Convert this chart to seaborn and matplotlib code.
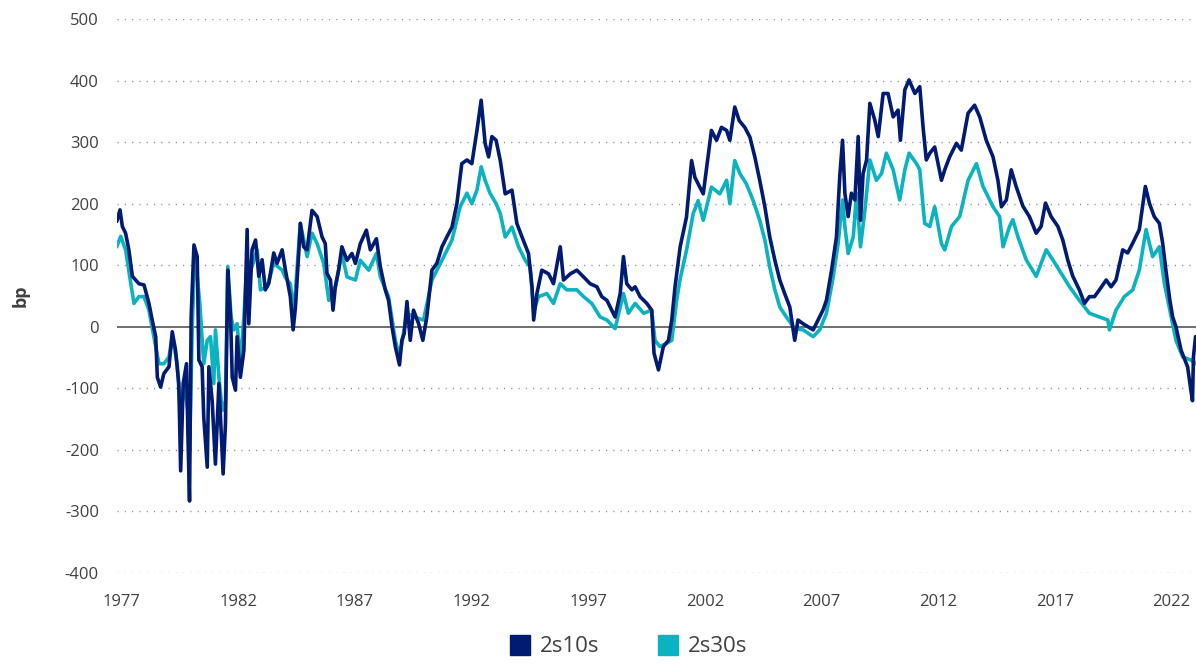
import numpy as np
import pandas as pd
import seaborn as sns
import matplotlib.pyplot as plt
from matplotlib.lines import Line2D

# 2s10s curve (bp)
yrs_10s = [1976.79, 1976.93, 1977.03, 1977.17, 1977.31, 1977.46, 1977.60, 1977.74, 1977.96, 1978.17,
           1978.31, 1978.46, 1978.53, 1978.67, 1978.81, 1979.03, 1979.17, 1979.31, 1979.45, 1979.53,
           1979.64, 1979.78, 1979.84, 1979.91, 1979.98, 1980.10, 1980.24, 1980.31, 1980.45, 1980.52,
           1980.67, 1980.74, 1980.88, 1981.02, 1981.17, 1981.35, 1981.45, 1981.55, 1981.67, 1981.74,
           1981.88, 1981.95, 1982.09, 1982.24, 1982.38, 1982.45, 1982.59, 1982.74, 1982.88, 1983.02,
           1983.16, 1983.31, 1983.52, 1983.66, 1983.88, 1984.02, 1984.23, 1984.35, 1984.45, 1984.59,
           1984.66, 1984.80, 1984.95, 1985.16, 1985.38, 1985.59, 1985.73, 1985.80, 1985.95, 1986.06,
           1986.16, 1986.30, 1986.44, 1986.66, 1986.87, 1987.02, 1987.23, 1987.49, 1987.66, 1987.92,
           1988.09, 1988.30, 1988.44, 1988.59, 1988.73, 1988.91, 1989.01, 1989.11, 1989.23, 1989.37,
           1989.51, 1989.73, 1989.91, 1990.08, 1990.30, 1990.51, 1990.73, 1990.94, 1991.16, 1991.37,
           1991.58, 1991.80, 1992.01, 1992.23, 1992.41, 1992.58, 1992.73, 1992.87, 1993.05, 1993.23,
           1993.44, 1993.73, 1993.94, 1994.16, 1994.44, 1994.59, 1994.66, 1994.80, 1995.01, 1995.30,
           1995.51, 1995.80, 1995.94, 1996.23, 1996.51, 1996.80, 1997.08, 1997.37, 1997.58, 1997.80,
           1998.01, 1998.15, 1998.37, 1998.51, 1998.65, 1998.87, 1999.01, 1999.22, 1999.51, 1999.72,
           1999.82, 2000.01, 2000.22, 2000.44, 2000.58, 2000.72, 2000.94, 2001.21, 2001.43, 2001.57,
           2001.78, 2001.93, 2002.28, 2002.50, 2002.71, 2002.93, 2003.07, 2003.28, 2003.47, 2003.71,
           2003.93, 2004.14, 2004.35, 2004.57, 2004.78, 2005.00, 2005.21, 2005.42, 2005.64, 2005.85,
           2005.99, 2006.21, 2006.42, 2006.64, 2006.85, 2007.06, 2007.21, 2007.43, 2007.64, 2007.78,
           2007.90, 2008.00, 2008.14, 2008.28, 2008.43, 2008.57, 2008.67, 2008.78, 2008.93, 2009.07,
           2009.28, 2009.43, 2009.64, 2009.85, 2010.07, 2010.28, 2010.38, 2010.57, 2010.75, 2011.00,
           2011.21, 2011.35, 2011.49, 2011.64, 2011.85, 2012.14, 2012.28, 2012.49, 2012.78, 2012.99,
           2013.28, 2013.56, 2013.78, 2014.06, 2014.35, 2014.56, 2014.71, 2014.92, 2015.13, 2015.34,
           2015.63, 2015.91, 2016.20, 2016.41, 2016.60, 2016.84, 2017.13, 2017.34, 2017.55, 2017.77,
           2018.05, 2018.27, 2018.48, 2018.70, 2018.91, 2019.20, 2019.41, 2019.62, 2019.91, 2020.12,
           2020.34, 2020.62, 2020.88, 2021.05, 2021.26, 2021.48, 2021.62, 2021.76, 2021.93, 2022.05,
           2022.19, 2022.41, 2022.69, 2022.83, 2022.90, 2022.94, 2023.03]
bp_10s = [171, 190, 163, 152, 125, 82, 76, 70, 68, 38,
          11, -16, -82, -98, -76, -65, -8, -38, -92, -234,
          -92, -60, -174, -283, 16, 133, 114, -54, -65, -147,
          -228, -65, -120, -223, -92, -239, -158, 92, 16, -82,
          -103, -16, -82, -38, 158, 5, 125, 141, 82, 109,
          60, 71, 120, 103, 125, 92, 49, -5, 32, 119,
          168, 130, 125, 189, 179, 146, 135, 87, 76, 27,
          65, 92, 130, 108, 119, 103, 135, 157, 125, 143,
          97, 60, 43, 0, -32, -62, -22, -11, 41, -22,
          27, 5, -22, 16, 92, 103, 130, 146, 162, 200,
          265, 271, 265, 319, 368, 298, 276, 309, 303, 270,
          216, 222, 168, 146, 119, 65, 11, 54, 92, 86,
          70, 130, 76, 86, 92, 81, 70, 65, 49, 43,
          27, 16, 54, 114, 70, 60, 65, 49, 38, 27,
          -43, -70, -32, -22, 11, 65, 130, 178, 270, 243,
          227, 216, 319, 303, 324, 319, 303, 357, 335, 324,
          308, 276, 238, 195, 146, 108, 76, 54, 32, -22,
          11, 5, 0, -5, 11, 27, 43, 92, 146, 244,
          303, 217, 179, 217, 206, 309, 173, 249, 271, 363,
          336, 309, 379, 379, 341, 352, 303, 385, 401, 379,
          390, 325, 271, 282, 292, 238, 255, 276, 298, 287,
          347, 360, 341, 303, 276, 238, 195, 206, 255, 228,
          196, 179, 152, 163, 201, 179, 163, 141, 109, 82,
          60, 38, 49, 49, 60, 76, 65, 76, 125, 120,
          136, 158, 228, 201, 179, 168, 136, 92, 43, 16,
          0, -38, -65, -103, -120, -49, -16]

# 2s30s curve (bp)
yrs_30s = [1976.79, 1976.96, 1977.17, 1977.39, 1977.53, 1977.74, 1977.96, 1978.17, 1978.38, 1978.60,
           1978.81, 1979.03, 1979.17, 1979.38, 1979.53, 1979.67, 1979.84, 1979.91, 1980.03, 1980.13,
           1980.24, 1980.35, 1980.52, 1980.67, 1980.81, 1980.95, 1981.02, 1981.17, 1981.31, 1981.45,
           1981.55, 1981.69, 1981.81, 1981.95, 1982.09, 1982.24, 1982.38, 1982.59, 1982.81, 1982.95,
           1983.24, 1983.52, 1983.88, 1984.02, 1984.23, 1984.38, 1984.66, 1984.95, 1985.16, 1985.38,
           1985.66, 1985.88, 1986.16, 1986.44, 1986.66, 1987.02, 1987.23, 1987.59, 1987.92, 1988.09,
           1988.44, 1988.73, 1988.91, 1989.23, 1989.51, 1989.94, 1990.30, 1990.73, 1991.16, 1991.51,
           1991.80, 1992.01, 1992.23, 1992.41, 1992.58, 1992.79, 1993.05, 1993.23, 1993.44, 1993.73,
           1994.01, 1994.30, 1994.51, 1994.66, 1994.87, 1995.23, 1995.51, 1995.80, 1996.08, 1996.51,
           1996.80, 1997.15, 1997.51, 1997.80, 1998.15, 1998.51, 1998.72, 1999.01, 1999.37, 1999.72,
           1999.86, 2000.07, 2000.36, 2000.58, 2000.79, 2000.93, 2001.21, 2001.50, 2001.71, 2001.93,
           2002.28, 2002.64, 2002.93, 2003.07, 2003.28, 2003.50, 2003.78, 2004.07, 2004.35, 2004.57,
           2004.78, 2005.00, 2005.21, 2005.49, 2005.85, 2006.21, 2006.64, 2006.92, 2007.21, 2007.50,
           2007.71, 2007.90, 2008.00, 2008.14, 2008.36, 2008.50, 2008.67, 2008.86, 2009.07, 2009.35,
           2009.57, 2009.78, 2010.07, 2010.35, 2010.57, 2010.75, 2011.07, 2011.21, 2011.42, 2011.64,
           2011.85, 2012.14, 2012.28, 2012.57, 2012.92, 2013.28, 2013.64, 2013.92, 2014.35, 2014.63,
           2014.78, 2015.06, 2015.20, 2015.41, 2015.77, 2016.20, 2016.63, 2016.91, 2017.27, 2017.63,
           2018.05, 2018.48, 2018.91, 2019.27, 2019.34, 2019.62, 2019.98, 2020.34, 2020.62, 2020.91,
           2021.19, 2021.48, 2021.69, 2021.93, 2022.19, 2022.48, 2022.83, 2023.03]
bp_30s = [130, 147, 125, 71, 38, 49, 49, 27, -16, -60,
          -60, -49, -16, -60, -147, -92, -136, -201, 5, 114,
          82, 38, -60, -22, -16, -92, -5, -82, -136, -120,
          98, 16, -5, 5, -60, 16, 109, 98, 125, 60,
          65, 103, 92, 80, 70, 22, 168, 114, 152, 135,
          103, 43, 65, 119, 81, 76, 108, 92, 119, 81,
          49, -22, -49, 22, 16, 11, 76, 108, 141, 195,
          217, 200, 222, 260, 238, 217, 200, 184, 146, 162,
          130, 108, 97, 27, 49, 54, 38, 70, 60, 60,
          49, 38, 16, 11, -3, 54, 22, 38, 22, 27,
          -22, -32, -27, -22, 43, 76, 124, 184, 205, 173,
          227, 216, 238, 200, 270, 249, 232, 205, 173, 141,
          97, 60, 32, 16, -3, -5, -16, -5, 22, 81,
          135, 206, 163, 119, 146, 217, 130, 190, 271, 238,
          249, 282, 255, 206, 255, 282, 265, 255, 168, 163,
          195, 135, 125, 163, 179, 238, 265, 228, 195, 179,
          130, 163, 174, 147, 109, 82, 125, 109, 87, 65,
          43, 22, 16, 11, -5, 27, 49, 60, 92, 158,
          114, 130, 71, 27, -22, -49, -54, -60]

tick_years = [1977, 1982, 1987, 1992, 1997, 2002, 2007, 2012, 2017, 2022]
y_ticks = [500, 400, 300, 200, 100, 0, -100, -200, -300, -400]

navy = "#001b71"
teal = "#0bb2bf"
txt = "#404040"

sns.set_theme(style="white")
plt.rcParams["font.family"] = ["Open Sans", "DejaVu Sans"]

fig = plt.figure(figsize=(11.96, 6.67), dpi=100)
ax = fig.add_axes([0.0978, 0.1409, 0.9022, 0.8306])

for v in y_ticks:
    if v != 0:
        ax.axhline(v, color="#8a8a8a", lw=1.0, linestyle=(0, (0.8, 4.45)), zorder=0)
ax.axhline(0, color="#6e6e6e", lw=1.4, zorder=1)

sns.lineplot(x=yrs_30s, y=bp_30s, color=teal, linewidth=2.6, ax=ax, sort=False,
             estimator=None, legend=False, zorder=2)
sns.lineplot(x=yrs_10s, y=bp_10s, color=navy, linewidth=2.6, ax=ax, sort=False,
             estimator=None, legend=False, zorder=3)

ax.set_xlim(1976.8, 2023.05)
ax.set_ylim(-400, 500)
ax.set_xticks(tick_years)
ax.set_xticklabels([str(y) for y in tick_years])
ax.set_yticks(y_ticks)
ax.set_yticklabels([str(v) for v in y_ticks])
ax.tick_params(axis="x", length=0, pad=15, labelsize=12, labelcolor=txt)
ax.tick_params(axis="y", length=0, pad=13, labelsize=12, labelcolor=txt)
for s in ax.spines.values():
    s.set_visible(False)
ax.set_xlabel("")
ax.set_ylabel("bp", fontsize=13, fontweight="bold", color=txt, labelpad=25)

handles = [Line2D([], [], marker="s", linestyle="none", markersize=14, color=navy),
           Line2D([], [], marker="s", linestyle="none", markersize=14, color=teal)]
fig.legend(handles, ["2s10s", "2s30s"], loc="center", bbox_to_anchor=(0.525, 0.03),
           ncol=2, frameon=False, fontsize=16, labelcolor=txt, handletextpad=0.4,
           columnspacing=2.6, handlelength=1.0)

fig.savefig("out.png", dpi=100)
